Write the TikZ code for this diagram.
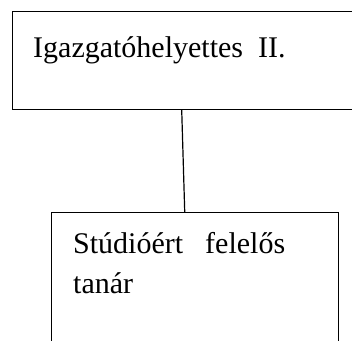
\documentclass[tikz,border=0pt]{standalone}
\usepackage{fontspec}
\setmainfont{Liberation Serif}
\usetikzlibrary{calc, positioning}

\begin{document}
\begin{tikzpicture}[x=1pt, y=-1pt,
    box/.style={draw, line width=1.2pt, rectangle, inner sep=0pt, anchor=north west},
    txt/.style={inner sep=0pt, anchor=base west, font=\fontsize{30}{40}\selectfont}]
      \useasboundingbox (0,0) rectangle (352,340);

      \node[box, minimum width=348pt, minimum height=98pt] (igh) at (12,11) {};
      \node[txt] (ighlabel) at (33,57) {Igazgatóhelyettes\hspace{15pt}II.};

      \node[box, minimum width=287pt, minimum height=150pt] (stud) at (51,212) {};
      \node[txt] (studlabel) at (73,253) {Stúdióért\hspace{22pt}felelős};
      \node[txt] (studlabelb) at (73,293) {tanár};

      \draw[line width=1.2pt] ($(igh.south west)!.486!(igh.south east)$) -- ($(stud.north west)!.464!(stud.north east)$);
    \end{tikzpicture}
\end{document}
